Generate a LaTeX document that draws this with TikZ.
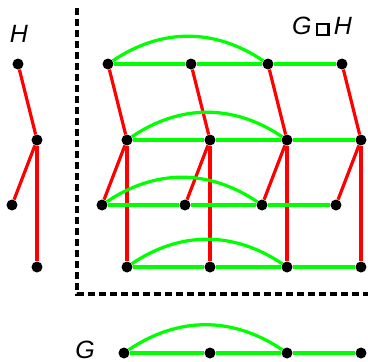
\documentclass[tikz,border=0pt]{standalone}
\usepackage{fontspec}
\setmainfont{Liberation Sans}
\usepackage{tikz}
\usetikzlibrary{positioning}
\tikzset{
  vtx/.style={circle, fill=black, inner sep=0pt, minimum size=11pt},
  hedge/.style={draw=red, line width=3.2pt},
  gedge/.style={draw=green, line width=3.2pt},
  lbl/.style={font=\fontsize{25}{25}\selectfont\itshape, inner sep=0pt, anchor=base},
  frame/.style={draw=black, line width=3.2pt, dash pattern=on 7pt off 4pt},
}
\newcommand{\boxop}{{\fboxsep=0pt\fboxrule=2.4pt\fbox{\rule{0pt}{9pt}\hspace{9pt}}}}

\begin{document}
\begin{tikzpicture}[x=1pt, y=-1pt]
  \useasboundingbox (0,0) rectangle (368,362);

  % factor H
  \node[lbl] (hlab) at (19,42) {H};
  \node[vtx] (h1) at (18,64) {};
  \node[vtx] (h2) at (37,140) {};
  \node[vtx] (h3) at (12,205) {};
  \node[vtx] (h4) at (37,267) {};
  \draw[hedge] (h1) -- (h2);
  \draw[hedge] (h2) -- (h3);
  \draw[hedge] (h2) -- (h4);

  % factor G
  \node[lbl] (glab) at (85,358) {G};
  \node[vtx] (g1) at (124,353) {};
  \node[vtx] (g2) at (210,353) {};
  \node[vtx] (g3) at (287,353) {};
  \node[vtx] (g4) at (361,353) {};
  \draw[gedge] (g1) -- (g2) -- (g3) -- (g4);
  \draw[gedge] (g1) to[bend left=34] (g3);

  % the product
  \draw[frame] (77,8) |- (368,294);
  \node[lbl] (plab) at (322,34) {G\,\boxop\,H};
  \foreach \c/\x in {1/127,2/210,3/287,4/361} {
    \node[vtx] (p1\c) at (\x-19,64) {};
    \node[vtx] (p2\c) at (\x,140) {};
    \node[vtx] (p3\c) at (\x-25,205) {};
    \node[vtx] (p4\c) at (\x,267) {};
    \draw[hedge] (p1\c) -- (p2\c);
    \draw[hedge] (p2\c) -- (p3\c);
    \draw[hedge] (p2\c) -- (p4\c);
  }
  \foreach \r in {1,2,3,4} {
    \draw[gedge] (p\r1) -- (p\r2) -- (p\r3) -- (p\r4);
    \draw[gedge] (p\r1) to[bend left=34] (p\r3);
  }
\end{tikzpicture}
\end{document}
